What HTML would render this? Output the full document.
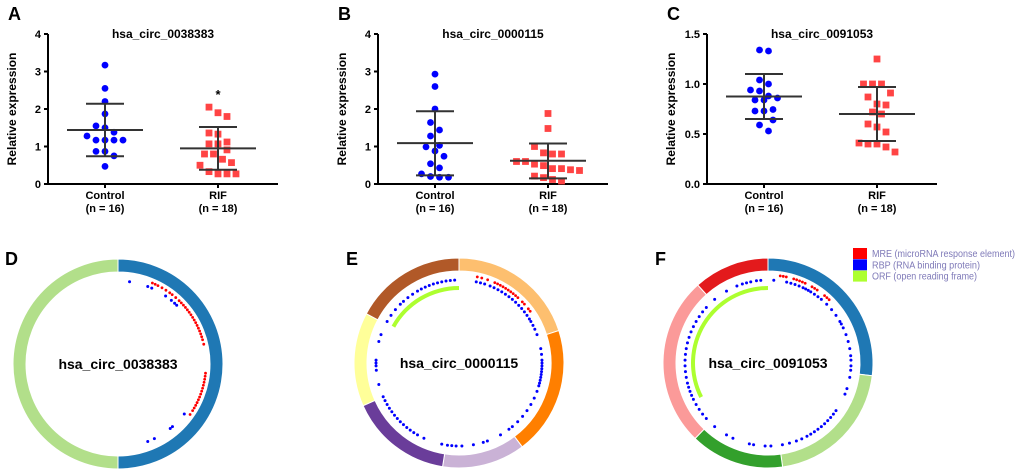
<!DOCTYPE html>
<html><head><meta charset="utf-8"><style>
html,body{margin:0;padding:0;background:#fff;}
svg{display:block;font-family:"Liberation Sans",Arial,sans-serif;}
</style></head><body>
<svg id="fig" width="1020" height="475" viewBox="0 0 1020 475" xmlns="http://www.w3.org/2000/svg"></svg>
<script>
// ---------- scatter data ----------
const groups = ["Control","RIF"];
const groupN = ["(n = 16)","(n = 18)"];
const titlesTop = ["hsa_circ_0038383","hsa_circ_0000115","hsa_circ_0091053"];
const ctrlA = [3.17,2.55,2.2,1.87,1.55,1.5,1.38,1.28,1.17,1.17,1.17,1.17,0.87,0.87,0.75,0.47];
const rifA  = [2.05,1.9,1.8,1.36,1.33,1.12,1.07,1.07,0.91,0.8,0.8,0.66,0.57,0.5,0.33,0.27,0.27,0.27];
const statsA = [1.44,2.14,0.74, 0.95,1.52,0.38];
const ctrlB = [2.93,2.6,2.0,1.64,1.44,1.28,1.03,0.99,0.88,0.74,0.54,0.43,0.27,0.2,0.18,0.18];
const rifB  = [1.88,1.48,1.0,0.83,0.8,0.8,0.6,0.6,0.53,0.49,0.41,0.41,0.38,0.36,0.21,0.17,0.12,0.08];
const statsB = [1.09,1.94,0.23, 0.62,1.08,0.15];
const ctrlC = [1.34,1.33,1.04,1.0,0.94,0.93,0.88,0.86,0.84,0.84,0.745,0.73,0.73,0.64,0.59,0.53];
const rifC  = [1.25,1.0,1.0,1.0,0.91,0.87,0.8,0.79,0.72,0.7,0.6,0.57,0.52,0.41,0.4,0.4,0.37,0.32];
const statsC = [0.875,1.1,0.65, 0.70,0.97,0.43];
const ticksAB = ["0","1","2","3","4"];
const ticksC = ["0.0","0.5","1.0","1.5"];

// ---------- circos data (angles in degrees clockwise from top) ----------
const segD = [0,180,360];
const colD = ["#1f78b4","#b2df8a"];
const segE = [0,72,143,189,246,298,360];
const colE = ["#fdbf6f","#ff7f00","#cab2d6","#6a3d9a","#ffff99","#b15928"];
const segF = [0,97,172,224,318,360];
const colF = ["#1f78b4","#b2df8a","#33a02c","#fb9a99","#e31a1c"];
const orfE = [299,360];
const orfF = [243,360];
const mreD = [23,25,27,30,33,36,38,41,44,46,48,50,52,54,56,58,60,62,64,66,68,70,72,74,77,96,98,100,102,104,106,108,110,112,114,116,118,120,122,125];
const rbpD = [8,21,24,35,40,43,45,127,139,141,154,159];
const mreE = [12,15,19,24,26,28,30,32,34,36,38,40,42,46,48,52,54];
const rbpE = [12,15,18,22,25,28,31,34,37,40,43,46,49,52,55,58,60,63,66,70,80,84,88,90,92,94,96,98,100,102,104,106,110,115,120,125,130,135,140,143,150,160,163,170,178,182,185,188,192,205,210,213,216,219,222,225,228,231,234,237,240,243,246,255,265,268,270,272,285,290,300,305,310,315,318,322,326,330,333,336,339,342,345,348,351,354,357];
const mreF = [8,10,12,17,19,21,23,25,30,32,34,40,42,44];
const rbpF = [4,13,16,19,22,25,27,29,31,34,37,40,45,50,55,60,62,65,70,75,80,85,88,92,95,100,108,112,125,128,131,134,137,140,143,146,149,152,156,160,165,170,178,182,190,193,205,210,220,228,232,236,240,244,247,250,253,256,260,264,268,272,276,280,284,288,292,296,300,304,308,312,320,330,338,342,345,348,352,355];

const NS="http://www.w3.org/2000/svg";
const svg=document.getElementById("fig");
function mk(tag,attrs,parent){const e=document.createElementNS(NS,tag);for(const k in attrs)e.setAttribute(k,attrs[k]);(parent||svg).appendChild(e);return e;}
function txt(s,attrs,parent){const e=mk("text",attrs,parent);e.textContent=s;return e;}

function swarm(vals,y,cx){
  const idx=vals.map((v,i)=>i).sort((a,b)=>vals[b]-vals[a]);
  const out=new Array(vals.length);let grp=[];
  const flush=()=>{const k=grp.length;grp.forEach((i,j)=>{out[i]=[cx+(j-(k-1)/2)*9,y(vals[i])];});grp=[];};
  idx.forEach(i=>{if(grp.length&&Math.abs(y(vals[i])-y(vals[grp[0]]))>=9.5)flush();grp.push(i);});
  flush();return out;
}
function scatter(p){
  const g=mk("g",{});
  
  
  const y=v=>p.y0-(v-p.vmin)/(p.vmax-p.vmin)*(p.y0-p.y1);
  const xs=[p.ax+57,p.ax+170];
  const L=txt(p.letter,{x:p.ax-40,y:20,"font-size":18,"font-weight":"bold"},g);
  
  const T=txt(p.title,{x:p.ax+115,y:38,"font-size":12,"font-weight":"bold","text-anchor":"middle"},g);
  
  const ax=mk("path",{d:`M${p.ax} ${y(p.vmax)}V${p.y0}H${p.ax+230}`,stroke:"#000","stroke-width":2,fill:"none"},g);
  
  p.ticks.forEach((t,i)=>{const v=parseFloat(t);mk("line",{x1:p.ax-4,x2:p.ax,y1:y(v),y2:y(v),stroke:"#000","stroke-width":2},g);
    const tl=txt(t,{x:p.ax-7,y:y(v)+4,"font-size":11,"font-weight":"bold","text-anchor":"end"},g);
    });
  const yl=txt("Relative expression",{x:0,y:0,"font-size":12,"font-weight":"bold","text-anchor":"middle",transform:`translate(${p.ax-32},${(p.y0+y(p.vmax))/2}) rotate(-90)`},g);
  
  groups.forEach((gn,i)=>{mk("line",{x1:xs[i],x2:xs[i],y1:p.y0,y2:p.y0+4,stroke:"#000","stroke-width":2},g);
    const a=txt(gn,{x:xs[i],y:p.y0+15,"font-size":11,"font-weight":"bold","text-anchor":"middle"},g);
    
    const b=txt(groupN[i],{x:xs[i],y:p.y0+28,"font-size":11,"font-weight":"bold","text-anchor":"middle"},g);
    });
  [p.ctrl,p.rif].forEach((vals,gi)=>{
    const pos=swarm(vals,y,xs[gi]);
    pos.forEach(([px,py])=>{
      let m;
      if(gi===0){m=mk("circle",{cx:px,cy:py,r:3.4,fill:"#0000ff"},g);}
      else{m=mk("rect",{x:px-3.4,y:py-3.4,width:6.8,height:6.8,fill:"#f44"},g);}
      });
    const s=p.stats.slice(gi*3,gi*3+3),cx=xs[gi];
    const eb=mk("path",{d:`M${cx-38} ${y(s[0])}H${cx+38}M${cx-19} ${y(s[1])}H${cx+19}M${cx-19} ${y(s[2])}H${cx+19}M${cx} ${y(s[1])}V${y(s[2])}`,stroke:"#333","stroke-width":2,fill:"none"},g);
    
  });
  if(p.star){const st=txt("*",{x:xs[1],y:y(p.star)+8,"font-size":13,"font-weight":"bold","text-anchor":"middle"},g);
    }
}
scatter({letter:"A",ax:48,y0:184,y1:34,vmin:0,vmax:4,ticks:ticksAB,title:titlesTop[0],ctrl:ctrlA,rif:rifA,stats:statsA,star:2.48});
scatter({letter:"B",ax:378,y0:184,y1:34,vmin:0,vmax:4,ticks:ticksAB,title:titlesTop[1],ctrl:ctrlB,rif:rifB,stats:statsB});
scatter({letter:"C",ax:707,y0:184,y1:34,vmin:0,vmax:1.5,ticks:ticksC,title:titlesTop[2],ctrl:ctrlC,rif:rifC,stats:statsC});

function pt(cx,cy,r,a){const t=a*Math.PI/180;return [cx+r*Math.sin(t),cy-r*Math.cos(t)];}
function arc(cx,cy,r1,r2,a0,a1){const [x0,y0]=pt(cx,cy,r2,a0),[x1,y1]=pt(cx,cy,r2,a1),[x2,y2]=pt(cx,cy,r1,a1),[x3,y3]=pt(cx,cy,r1,a0);const lg=(a1-a0)>180?1:0;
  return `M${x0} ${y0}A${r2} ${r2} 0 ${lg} 1 ${x1} ${y1}L${x2} ${y2}A${r1} ${r1} 0 ${lg} 0 ${x3} ${y3}Z`;}
function circos(c){
  const g=mk("g",{});
  
  
  const L=txt(c.letter,{x:c.cx-113,y:265,"font-size":18,"font-weight":"bold"},g);
  
  for(let i=0;i<c.cols.length;i++){const s=mk("path",{d:arc(c.cx,c.cy,92,105,c.seg[i],c.seg[i+1]),fill:c.cols[i],stroke:"#fff","stroke-width":1},g);
    }
  if(c.orf){const o=mk("path",{d:arc(c.cx,c.cy,73,77,c.orf[0],c.orf[1]),fill:"#adff2f"},g);
    }
  c.rbp.forEach(a=>{const [x,y]=pt(c.cx,c.cy,83,a);const m=mk("circle",{cx:x,cy:y,r:1.5,fill:"#0000ff"},g);
    });
  c.mre.forEach(a=>{const [x,y]=pt(c.cx,c.cy,88,a);const m=mk("circle",{cx:x,cy:y,r:1.4,fill:"#ff0000"},g);
    });
  const t=txt(c.title,{x:c.cx,y:c.cy+5,"font-size":14,"font-weight":"bold","text-anchor":"middle"},g);
  
}
circos({letter:"D",cx:118,cy:364,seg:segD,cols:colD,mre:mreD,rbp:rbpD,title:titlesTop[0]});
circos({letter:"E",cx:459,cy:363,seg:segE,cols:colE,mre:mreE,rbp:rbpE,orf:orfE,title:titlesTop[1]});
circos({letter:"F",cx:768,cy:363,seg:segF,cols:colF,mre:mreF,rbp:rbpF,orf:orfF,title:titlesTop[2]});

const legLabels=["MRE (microRNA response element)","RBP (RNA binding protein)","ORF (open reading frame)"];
const legCols=["#ff0000","#0000ff","#adff2f"];
const legLen=[143,108,105];
legLabels.forEach((s,i)=>{const g=mk("g",{});
  
  mk("rect",{x:853,y:248+i*11.3,width:14,height:11,fill:legCols[i]},g);
  txt(s,{x:872,y:257+i*11.3,"font-size":10,fill:"#7f7ab8",textLength:legLen[i],lengthAdjust:"spacingAndGlyphs"},g);});
</script>
</body></html>
